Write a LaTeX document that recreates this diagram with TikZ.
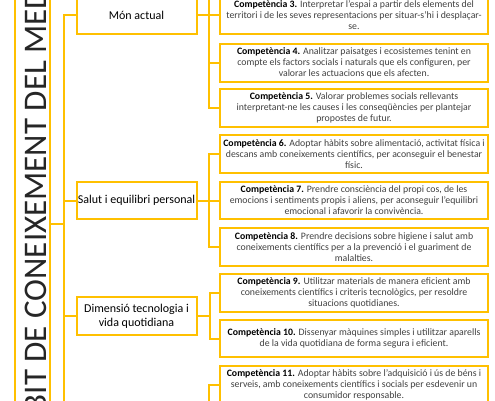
\documentclass[tikz,border=0pt]{standalone}
\usepackage{fontspec}
\setmainfont{Carlito}
\definecolor{gold}{HTML}{FFC000}
\begin{document}
\begin{tikzpicture}[x=1pt, y=-1pt, every node/.style={font=\fontsize{9.8}{11}\selectfont, text=black!75}]
\tikzset{comp/.style={draw=gold, line width=2pt, minimum width=268pt, minimum height=38pt, inner sep=1pt, align=center, anchor=center},
  cat/.style={draw=gold, line width=2pt, minimum width=120pt, minimum height=38pt, inner sep=1pt, align=center, text=black, font=\fontsize{12}{14}\selectfont},
  link/.style={draw=gold, line width=2pt}}
\useasboundingbox (0,0) rectangle (495,400);
\clip (0,0) rectangle (495,400);
% ambit
\node[draw=gold, line width=2pt, minimum width=35pt, minimum height=480pt, inner sep=0pt] (ambit) at (32.5,224) {};
\node[rotate=90, inner sep=0pt, text=black!85, font=\fontsize{33}{33}\selectfont] (ambittxt) at (33,220) {ÀMBIT DE CONEIXEMENT DEL MEDI};
% categories
\node[cat] (mon) at (136.5,15) {Món actual};
\node[cat, minimum height=37pt] (salut) at (136.5,200.5) {Salut i equilibri personal};
\node[cat] (dim) at (136.5,316) {Dimensió tecnologia i\\vida quotidiana};
% competencies
\node[comp] (c3) at (354,15) {\textcolor{black}{\textbf{Competència 3.}} Interpretar l'espai a partir dels elements del\\territori i de les seves representacions per situar-s'hi i desplaçar-\\se.};
\node[comp] (c4) at (354,62.5) {\textcolor{black}{\textbf{Competència 4.}} Analitzar paisatges i ecosistemes tenint en\\compte els factors socials i naturals que els configuren, per\\valorar les actuacions que els afecten.};
\node[comp] (c5) at (354,107.5) {\textcolor{black}{\textbf{Competència 5.}} Valorar problemes socials rellevants\\interpretant-ne les causes i les conseqüències per plantejar\\propostes de futur.};
\node[comp] (c6) at (354,154) {\textcolor{black}{\textbf{Competència 6.}} Adoptar hàbits sobre alimentació, activitat física i\\descans amb coneixements científics, per aconseguir el benestar\\físic.};
\node[comp, minimum height=37pt] (c7) at (354,200.5) {\textcolor{black}{\textbf{Competència 7.}} Prendre consciència del propi cos, de les\\emocions i sentiments propis i aliens, per aconseguir l'equilibri\\emocional i afavorir la convivència.};
\node[comp] (c8) at (354,247) {\textcolor{black}{\textbf{Competència 8.}} Prendre decisions sobre higiene i salut amb\\coneixements científics per a la prevenció i el guariment de\\malalties.};
\node[comp] (c9) at (354,292.5) {\textcolor{black}{\textbf{Competència 9.}} Utilitzar materials de manera eficient amb\\coneixements científics i criteris tecnològics, per resoldre\\situacions quotidianes.};
\node[comp, minimum height=37pt] (c10) at (354,338.5) {\textcolor{black}{\textbf{Competència 10.}} Dissenyar màquines simples i utilitzar aparells\\de la vida quotidiana de forma segura i eficient.};
\node[comp] (c11) at (354,385) {\textcolor{black}{\textbf{Competència 11.}} Adoptar hàbits sobre l'adquisició i ús de béns i\\serveis, amb coneixements científics i socials per esdevenir un\\consumidor responsable.};
% trunk
\coordinate (tbot) at (64,405); \coordinate (b1top) at (209,-5); \coordinate (b4bot) at (209,405);
\draw[link] (mon.west) -| (tbot); \draw[link] (salut.west) -- (salut.west -| tbot); \draw[link] (dim.west) -- (dim.west -| tbot); \draw[link] (ambit.east) -- (ambit.east -| tbot);
% branches
\draw[link] (mon.east) -- (c3.west); \draw[link] (b1top) |- (c5.west); \draw[link] (b1top |- c4.west) -- (c4.west);
\draw[link] (salut.east) -- (c7.west); \draw[link] (c6.west) -| (b1top |- c6.west) |- (c8.west);
\draw[link] (dim.east) -- ++(12.5,0) coordinate (b3); \draw[link] (c9.west) -| (b3 |- c9.west) |- (c10.west);
\draw[link] (c11.west) -| (b4bot);
\end{tikzpicture}
\end{document}
